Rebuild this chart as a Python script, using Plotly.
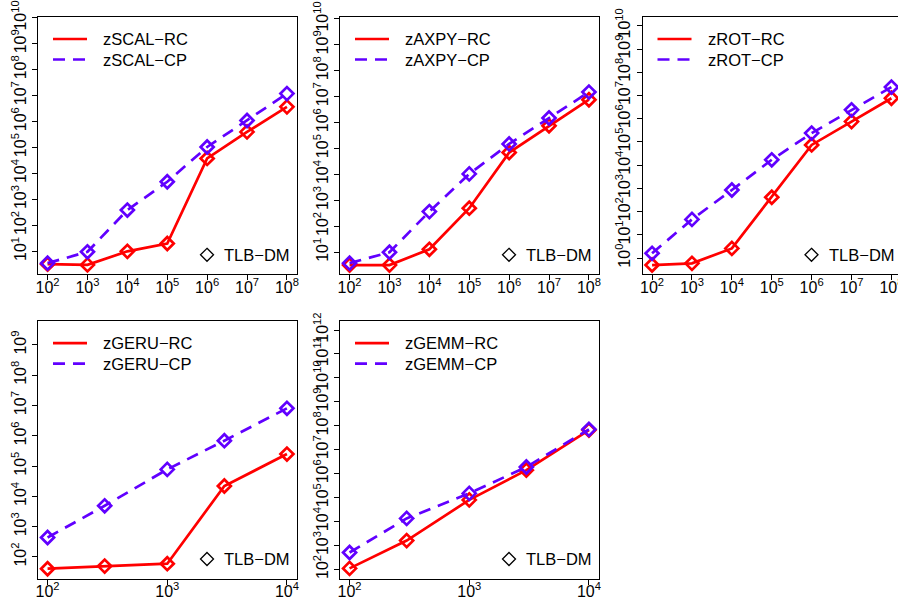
import plotly.graph_objects as go

# ---------------- data ----------------
x_vec = [1e2, 1e3, 1e4, 1e5, 1e6, 1e7, 1e8]
x_mat = [100, 300, 1000, 3000, 10000]

zscal_rc = [3.2, 3.0, 10, 20, 3.8e4, 4.0e5, 3.7e6]
zscal_cp = [3.5, 9.6, 390, 4800, 1.05e5, 1.1e6, 1.2e7]

zaxpy_rc = [3.2, 3.2, 13, 500, 7.0e4, 7.5e5, 7.6e6]
zaxpy_cp = [3.8, 10, 370, 1.05e4, 1.5e5, 1.5e6, 1.5e7]

zrot_rc = [0.5, 0.59, 2.6, 415, 7.4e4, 7.5e5, 7.6e6]
zrot_cp = [1.6, 46, 850, 1.7e4, 2.4e5, 2.4e6, 2.3e7]

zgeru_rc = [41, 50, 60, 2.2e4, 2.5e5]
zgeru_cp = [440, 4900, 7.8e4, 6.9e5, 8.1e6]

zgemm_rc = [110, 1600, 8.0e4, 1.4e6, 6.6e7]
zgemm_cp = [510, 1.35e4, 1.5e5, 1.9e6, 7.1e7]

names = ["zSCAL", "zAXPY", "zROT", "zGERU", "zGEMM"]
xs = [x_vec, x_vec, x_vec, x_mat, x_mat]
rcs = [zscal_rc, zaxpy_rc, zrot_rc, zgeru_rc, zgemm_rc]
cps = [zscal_cp, zaxpy_cp, zrot_cp, zgeru_cp, zgemm_cp]

x_tick_exps = [list(range(2, 9))] * 3 + [[2, 3, 4]] * 2
y_tick_exps = [list(range(1, 11)), list(range(1, 11)), list(range(0, 11)),
               list(range(2, 10)), list(range(2, 13))]

# ---------------- layout geometry (pixels) ----------------
W, H = 898, 599
col_x0 = [38, 340, 642.5, 38, 340]
row_y0 = [16.5, 16.5, 16.5, 320.7, 320.7]
PW, PH = 258.5, 257.8
x_ranges = [[1.76, 8.24], [1.76, 8.24], [1.76, 8.24], [1.92, 4.08], [1.92, 4.08]]
y_ranges = [[0.115, 10.05], [0.15, 10.09], [-0.70, 10.4], [1.29, 9.80], [1.62, 12.39]]

RED = "#FF0000"
BLUE = "#6100FF"
FONT = "Liberation Sans, Arial, sans-serif"
TICKFONT = "Liberation Sans Narrow, Arial Narrow, Liberation Sans, sans-serif"

def fx(px):
    return px / W

def fy(py):
    return 1 - py / H

fig = go.Figure()
shapes = []
annotations = []

for i in range(5):
    n = i + 1
    xa = "x" if n == 1 else f"x{n}"
    ya = "y" if n == 1 else f"y{n}"
    x0 = col_x0[i]
    clipped = x0 + PW > W
    x1 = min(x0 + PW, W)
    y0 = row_y0[i]
    y1 = y0 + PH
    xr = list(x_ranges[i])
    if clipped:
        xr[1] = xr[0] + (xr[1] - xr[0]) * (W - x0) / PW

    fig.add_trace(go.Scatter(
        x=xs[i], y=rcs[i], mode="lines+markers", xaxis=xa, yaxis=ya,
        line=dict(color=RED, width=2.7),
        marker=dict(symbol="diamond-open", size=10, color=RED, line=dict(width=2.7, color=RED)),
        showlegend=False, name=names[i] + "-RC", cliponaxis=True))
    fig.add_trace(go.Scatter(
        x=xs[i], y=cps[i], mode="lines+markers", xaxis=xa, yaxis=ya,
        line=dict(color=BLUE, width=2.7, dash="12px,8px"),
        marker=dict(symbol="diamond-open", size=10, color=BLUE, line=dict(width=2.7, color=BLUE)),
        showlegend=False, name=names[i] + "-CP", cliponaxis=True))

    xkey = "xaxis" if n == 1 else f"xaxis{n}"
    ykey = "yaxis" if n == 1 else f"yaxis{n}"
    fig.update_layout(**{
        xkey: dict(
            domain=[fx(x0), fx(x1)], anchor=ya, type="log", range=xr,
            tickvals=[10 ** k for k in x_tick_exps[i]],
            ticktext=[f"10<sup>{k}</sup>" for k in x_tick_exps[i]],
            ticks="outside", ticklen=5, tickwidth=1, tickcolor="black",
            showline=True, linecolor="black", linewidth=1, mirror=True,
            showgrid=False, zeroline=False, automargin=False,
            ticklabeloverflow="allow", ticklabelstandoff=-7,
            tickfont=dict(family=TICKFONT, size=16, color="black"),
        ),
        ykey: dict(
            domain=[fy(y1), fy(y0)], anchor=xa, type="log", range=y_ranges[i],
            tickvals=[10 ** k for k in y_tick_exps[i]],
            ticktext=[f"10<sup>{k}</sup>" for k in y_tick_exps[i]],
            ticks="outside", ticklen=5, tickwidth=1, tickcolor="black",
            showline=True, linecolor="black", linewidth=1,
            mirror=not clipped,
            showgrid=False, zeroline=False, tickangle=-90, automargin=False,
            ticklabeloverflow="allow",
            tickfont=dict(family=TICKFONT, size=16, color="black"),
        ),
    })

    # legend (top-left)
    for k, (lab, col, dash) in enumerate([(names[i] + "\u2212RC", RED, "solid"),
                                          (names[i] + "\u2212CP", BLUE, "12px,8px")]):
        ly = y0 + 22.5 + k * 20.5
        shapes.append(dict(type="line", xref="paper", yref="paper",
                           x0=fx(x0 + 15), x1=fx(x0 + 49), y0=fy(ly), y1=fy(ly),
                           line=dict(color=col, width=2.7, dash=dash)))
        annotations.append(dict(xref="paper", yref="paper", x=fx(x0 + 63), y=fy(ly),
                                xanchor="left", yanchor="middle", showarrow=False,
                                text=lab, font=dict(family=FONT, size=16.5, color="black")))
    # TLB-DM legend (bottom-right)
    cx, cy, r = x0 + 169, y1 - 19.5, 6.5
    path = (f"M {fx(cx)},{fy(cy - r)} L {fx(cx + r)},{fy(cy)} "
            f"L {fx(cx)},{fy(cy + r)} L {fx(cx - r)},{fy(cy)} Z")
    shapes.append(dict(type="path", xref="paper", yref="paper", path=path,
                       line=dict(color="black", width=1.3)))
    annotations.append(dict(xref="paper", yref="paper", x=fx(x0 + 184), y=fy(cy),
                            xanchor="left", yanchor="middle", showarrow=False,
                            text="TLB\u2212DM", font=dict(family=FONT, size=16.5, color="black")))

fig.update_layout(
    width=W, height=H, margin=dict(l=0, r=0, t=0, b=0, pad=0, autoexpand=False),
    paper_bgcolor="white", plot_bgcolor="white",
    shapes=shapes, annotations=annotations, showlegend=False,
)

fig.write_html("out.html", config={"displayModeBar": False})
